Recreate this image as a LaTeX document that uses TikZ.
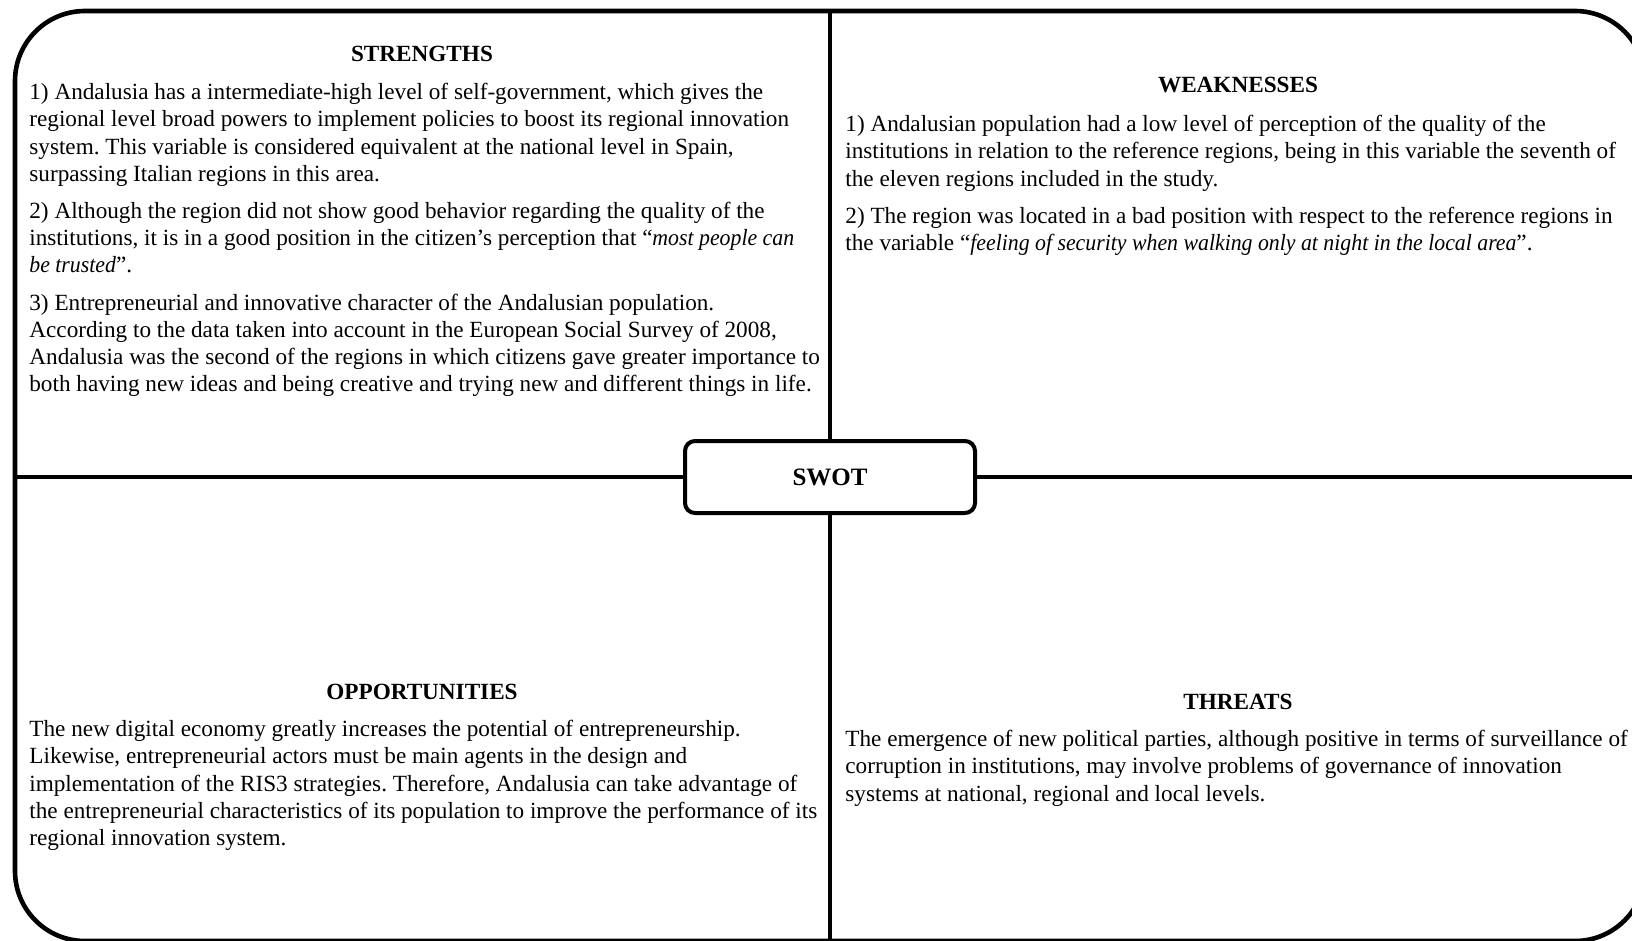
\documentclass[tikz,border=0pt]{standalone}
\usepackage{fontspec}
\setmainfont[ItalicFeatures={FakeStretch=0.94}]{Liberation Serif}
\frenchspacing
\usetikzlibrary{positioning}
\tikzstyle{frame} = [line width=2.3pt, rounded corners=35pt]
\tikzstyle{divider} = [line width=2.2pt]
\tikzstyle{swotbox} = [rectangle, draw, line width=2pt, rounded corners=5pt, fill=white, minimum width=145pt, minimum height=36pt, font=\fontsize{12.5}{14}\selectfont\bfseries]
\tikzstyle{heading} = [inner sep=0pt, font=\fontsize{11.6}{13.6}\selectfont\bfseries]
\tikzstyle{body} = [inner sep=0pt, anchor=north west, align=left, font=\fontsize{11.6}{13.6}\selectfont]

\begin{document}
\begin{tikzpicture}[x=0.5pt, y=-0.5pt]
\useasboundingbox (0,0) rectangle (1632,941);
% outer frame, it runs past the right and bottom edges
\coordinate (nw) at (15,11);
\coordinate (se) at (1645,941);
\draw[frame] (nw) rectangle (se);

% centre box
\node (swot) [swotbox] at (830,477) {SWOT};
\coordinate (midT) at (830,11);
\coordinate (midB) at (830,941);
\coordinate (midL) at (15,477);
\coordinate (midR) at (1645,477);
\draw[divider] (midT) -- (swot.north);
\draw[divider] (swot.south) -- (midB);
\draw[divider] (midL) -- (swot.west);
\draw[divider] (swot.east) -- (midR);

% Strengths
\node (sHead) [heading] at (422,54) {STRENGTHS};
\node (sText) [body] at (29,83) {1) Andalusia has a intermediate-high level of self-government, which gives the\\
regional level broad powers to implement policies to boost its regional innovation\\
system. This variable is considered equivalent at the national level in Spain,\\
surpassing Italian regions in this area.\\[5pt]
2) Although the region did not show good behavior regarding the quality of the\\
institutions, it is in a good position in the citizen's perception that “\textit{most people can}\\
\textit{be trusted}”.\\[5pt]
3) Entrepreneurial and innovative character of the Andalusian population.\\
According to the data taken into account in the European Social Survey of 2008,\\
Andalusia was the second of the regions in which citizens gave greater importance to\\
both having new ideas and being creative and trying new and different things in life.};

% Weaknesses
\node (wHead) [heading] at (1238,85) {WEAKNESSES};
\node (wText) [body] at (845,115) {1) Andalusian population had a low level of perception of the quality of the\\
institutions in relation to the reference regions, being in this variable the seventh of\\
the eleven regions included in the study.\\[5pt]
2) The region was located in a bad position with respect to the reference regions in\\
the variable “\textit{feeling of security when walking only at night in the local area}”.};

% Opportunities
\node (oHead) [heading] at (422,692) {OPPORTUNITIES};
\node (oText) [body] at (29,720) {The new digital economy greatly increases the potential of entrepreneurship.\\
Likewise, entrepreneurial actors must be main agents in the design and\\
implementation of the RIS3 strategies. Therefore, Andalusia can take advantage of\\
the entrepreneurial characteristics of its population to improve the performance of its\\
regional innovation system.};

% Threats
\node (tHead) [heading] at (1238,702) {THREATS};
\node (tText) [body] at (845,730) {The emergence of new political parties, although positive in terms of surveillance of\\
corruption in institutions, may involve problems of governance of innovation\\
systems at national, regional and local levels.};
\end{tikzpicture}
\end{document}
